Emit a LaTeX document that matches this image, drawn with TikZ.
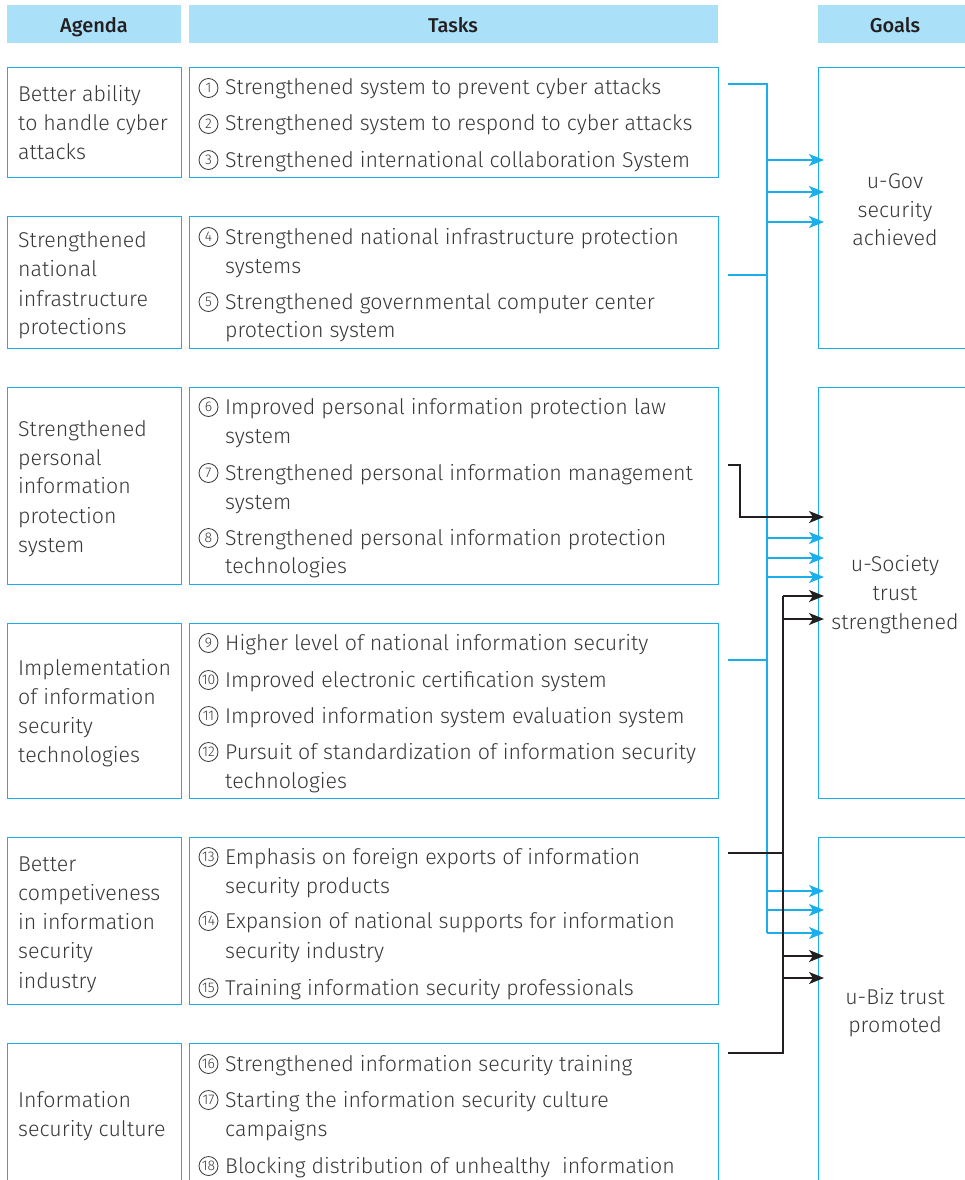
\documentclass[tikz,border=0pt]{standalone}
\usepackage{fontspec}
\setmainfont{Fira Sans}[UprightFont=* Light, BoldFont=* Medium]
\usetikzlibrary{arrows.meta,calc}
\definecolor{lineblue}{HTML}{1AAEEA}
\definecolor{hdrblue}{HTML}{ABE0F9}
\definecolor{txtgray}{HTML}{383838}
\definecolor{ink}{HTML}{231F20}
\tikzset{
  box/.style={draw=lineblue, line width=1.3pt, anchor=north west, inner sep=0pt},
  hdr/.style={fill=hdrblue, anchor=north west, inner sep=0pt},
  htxt/.style={anchor=base, inner sep=0pt, text=ink,
    font=\fontsize{20}{22}\selectfont\bfseries},
  txt/.style={anchor=base west, inner sep=0pt, text=txtgray, font=\fontsize{21.4}{29}\selectfont},
  gtxt/.style={anchor=base, inner sep=0pt, text=txtgray, font=\fontsize{21.4}{29}\selectfont},
  num/.style={circle, draw=txtgray, line width=0.8pt, inner sep=0pt, minimum size=19pt,
    text=txtgray, font=\fontsize{14}{14}\selectfont},
  bline/.style={draw=lineblue, line width=1.7pt},
  kline/.style={draw=ink, line width=1.7pt},
  barrow/.style={bline, -{Stealth[length=15pt, width=12pt, inset=4pt]}},
  karrow/.style={kline, -{Stealth[length=15pt, width=12pt, inset=4pt]}}
}
\begin{document}
\begin{tikzpicture}[x=1pt, y=-1pt]
\useasboundingbox (0,0) rectangle (965,1180);

% column headers
\node[hdr, minimum width=174pt, minimum height=38pt] (H1) at (7,5) {};
\node[hdr, minimum width=529pt, minimum height=38pt] (H2) at (189,5) {};
\node[hdr, minimum width=154pt, minimum height=38pt] (H3) at (818,5) {};
\node[htxt] (h1) at (94,33) {Agenda};
\node[htxt] (h2) at (453,33) {Tasks};
\node[htxt] (h3) at (895,33) {Goals};

% agenda boxes
\node[box, minimum width=174pt, minimum height=110pt] (A1) at (7,67) {};
\node[box, minimum width=174pt, minimum height=132pt] (A2) at (7,216) {};
\node[box, minimum width=174pt, minimum height=197pt] (A3) at (7,387) {};
\node[box, minimum width=174pt, minimum height=175pt] (A4) at (7,623) {};
\node[box, minimum width=174pt, minimum height=167pt] (A5) at (7,837) {};
\node[box, minimum width=174pt, minimum height=160pt] (A6) at (7,1043) {};

% task boxes
\node[box, minimum width=529pt, minimum height=110pt] (T1) at (189,67) {};
\node[box, minimum width=529pt, minimum height=132pt] (T2) at (189,216) {};
\node[box, minimum width=529pt, minimum height=197pt] (T3) at (189,387) {};
\node[box, minimum width=529pt, minimum height=175pt] (T4) at (189,623) {};
\node[box, minimum width=529pt, minimum height=167pt] (T5) at (189,837) {};
\node[box, minimum width=529pt, minimum height=160pt] (T6) at (189,1043) {};

% goal boxes
\node[box, minimum width=170pt, minimum height=281pt] (G1) at (818,67) {};
\node[box, minimum width=170pt, minimum height=411pt] (G2) at (818,387) {};
\node[box, minimum width=170pt, minimum height=360pt] (G3) at (818,837) {};

% agenda texts
\foreach \y/\t [count=\k] in {
  102/Better ability, 131/to handle cyber, 160/attacks,
  247/Strengthened, 276/national, 306/infrastructure, 334/protections,
  436/Strengthened, 465/personal, 493/information, 523/protection, 552/system,
  675/Implementation, 704/of information, 733/security, 762/technologies,
  871/Better, 900/competiveness, 929/in information, 958/security, 988/industry,
  1107/Information, 1136/security culture}
  \node[txt] (ag-\k) at (18,\y) {\t};

% task texts
\foreach \y/\t [count=\k] in {
  95/Strengthened system to prevent cyber attacks,
  131/Strengthened system to respond to cyber attacks,
  167/Strengthened international collaboration System,
  244/Strengthened national infrastructure protection, 273/systems,
  309/Strengthened governmental computer center, 337/protection system,
  414/Improved personal information protection law, 443/system,
  480/Strengthened personal information management, 509/system,
  545/Strengthened personal information protection, 573/technologies,
  650/Higher level of national information security,
  687/Improved electronic certification system,
  723/Improved information system evaluation system,
  759/Pursuit of standardization of information security, 788/technologies,
  864/Emphasis on foreign exports of information, 893/security products,
  928/Expansion of national supports for information, 958/security industry,
  995/Training information security professionals,
  1071/Strengthened information security training,
  1107/Starting the information security culture, 1136/campaigns,
  1173/Blocking distribution of unhealthy~ information}
  \node[txt] (tk-\k) at (225,\y) {\t};

% circled item numbers
\foreach \y/\n in {95/1, 131/2, 167/3, 244/4, 309/5, 414/6, 480/7, 545/8,
  650/9, 687/10, 723/11, 759/12, 864/13, 928/14, 995/15, 1071/16, 1107/17, 1173/18}
  \node[num] (n\n) at (208.5,\y-7) {\n};

% goal texts
\node[gtxt] (g1a) at (895,188) {u-Gov};
\node[gtxt] (g1b) at (895,217) {security};
\node[gtxt] (g1c) at (895,245) {achieved};
\node[gtxt] (g2a) at (895,571) {u-Society};
\node[gtxt] (g2b) at (895,600) {trust};
\node[gtxt] (g2c) at (895,629) {strengthened};
\node[gtxt] (g3a) at (895,1004) {u-Biz trust};
\node[gtxt] (g3b) at (895,1032) {promoted};

% blue connector: agenda 1, 2 and 4 feed every goal
\coordinate (b1) at (728,84);
\coordinate (b2) at (728,275);
\coordinate (b4) at (728,660);
\coordinate (bbus) at (767,933);
\draw[bline] (b1) -| (bbus);
\draw[bline] (b2) -- (b2 -| bbus);
\draw[bline] (b4) -- (b4 -| bbus);
\foreach \y [count=\k] in {160,192,222,538,558,577,891,910,933} {
  \coordinate (bt\k) at (824,\y);
  \draw[barrow] (bt\k -| bbus) -- (bt\k);
}

% black connector: agenda 3 to u-Society
\coordinate (k3) at (728,465);
\coordinate (k3d) at (740,517);
\coordinate (kt3) at (824,517);
\draw[karrow] (k3) -| (k3d) -- (kt3);

% black connector: agenda 5 and 6 to u-Society and u-Biz
\coordinate (k5) at (728,853);
\coordinate (k6) at (728,1053);
\coordinate (ktop) at (783,596);
\draw[kline] (k6) -| (ktop);
\draw[kline] (k5) -- (k5 -| ktop);
\foreach \y [count=\k] in {596,619,956,978} {
  \coordinate (kt\k) at (824,\y);
  \draw[karrow] (kt\k -| ktop) -- (kt\k);
}
\end{tikzpicture}
\end{document}
